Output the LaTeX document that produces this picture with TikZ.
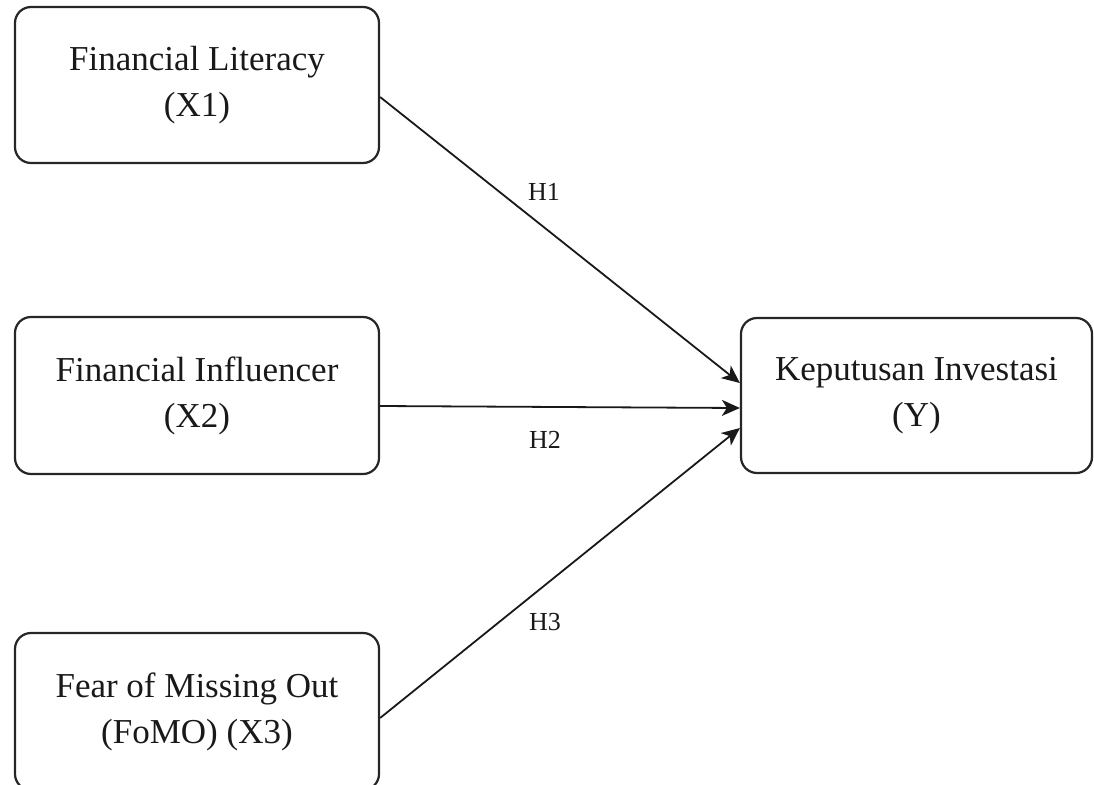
\documentclass[tikz,border=0pt]{standalone}
\usepackage{fontspec}
\setmainfont{Liberation Serif}
\usetikzlibrary{arrows.meta}
\begin{document}
\begin{tikzpicture}[x=1pt,y=-1pt,
  varbox/.style={draw=black!85, line width=2.2pt, rounded corners=16pt, align=center,
    inner sep=0pt, font=\fontsize{35}{46}\selectfont, text=black!90},
  hyp/.style={font=\fontsize{26}{30}\selectfont, text=black!90},
  link/.style={draw=black!90, line width=1.8pt, -{Stealth[length=18pt,width=16pt,inset=5pt]}}]
\useasboundingbox (0,0) rectangle (1094,784);
\node[varbox, minimum width=364pt, minimum height=156pt] (X1) at (197,85) {Financial Literacy\\(X1)};
\node[varbox, minimum width=364pt, minimum height=157pt] (X2) at (197,395.5) {Financial Influencer\\(X2)};
\node[varbox, minimum width=364pt, minimum height=157pt] (X3) at (197,711.5) {Fear of Missing Out\\(FoMO) (X3)};
\node[varbox, minimum width=351pt, minimum height=155pt] (Y) at (916.5,395.5) {Keputusan Investasi\\(Y)};
\draw[link] ([yshift=-12pt]X1.east) -- ([yshift=12.5pt]Y.west);
\draw[link] ([yshift=-10.5pt]X2.east) -- ([yshift=-12.5pt]Y.west);
\draw[link] ([yshift=-6.5pt]X3.east) -- ([yshift=-32.5pt]Y.west);
\node[hyp] (H1) at (544,192) {H1};
\node[hyp] (H2) at (545,440) {H2};
\node[hyp] (H3) at (545,622) {H3};
\end{tikzpicture}
\end{document}
